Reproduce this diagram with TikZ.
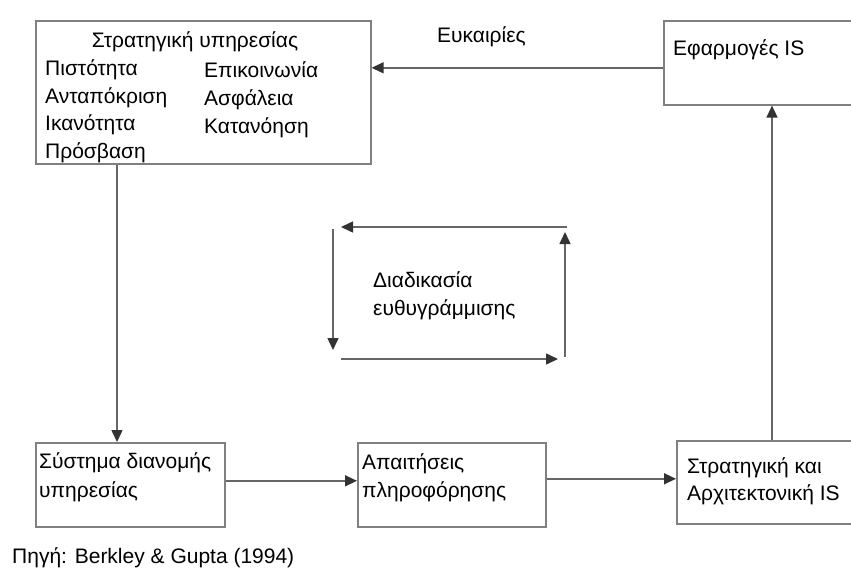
\documentclass[tikz,border=0pt]{standalone}
\usepackage{fontspec}
\setmainfont{Liberation Sans}
\usetikzlibrary{positioning,arrows.meta}

\begin{document}
\begin{tikzpicture}[x=1pt,y=-1pt,->,>={Triangle[length=12pt,width=11pt,color=black!80]}]
  \tikzstyle{box}=[rectangle,draw=black!50,line width=1.6pt,anchor=north west,inner sep=0pt]
  \tikzstyle{lbl}=[anchor=base west,inner sep=0pt,font=\fontsize{21}{28}\selectfont]
  \tikzstyle{link}=[draw=black!60,line width=1.5pt]

  \useasboundingbox (0,0) rectangle (851,568);

  % boxes
  \node[box,minimum width=335pt,minimum height=143pt] (strat) at (35,20) {};
  \node[box,minimum width=200pt,minimum height=84pt] (efarm) at (663,20) {};
  \node[box,minimum width=189pt,minimum height=84pt] (sys) at (35,442) {};
  \node[box,minimum width=188pt,minimum height=84pt] (apait) at (357,442) {};
  \node[box,minimum width=200pt,minimum height=83pt] (strarch) at (676,440) {};

  % texts of the boxes
  \node[lbl,anchor=base] (title) at (195,47) {Στρατηγική υπηρεσίας};
  \node[lbl] (pist) at (45,75) {Πιστότητα};
  \node[lbl] (antap) at (45,103) {Ανταπόκριση};
  \node[lbl] (ikan) at (45,130) {Ικανότητα};
  \node[lbl] (pros) at (45,158) {Πρόσβαση};
  \node[lbl] (epik) at (204,77) {Επικοινωνία};
  \node[lbl] (asfal) at (204,105) {Ασφάλεια};
  \node[lbl] (katan) at (204,133) {Κατανόηση};
  \node[lbl] (efarmtxt) at (673,55) {Εφαρμογές IS};
  \node[lbl] (sys1) at (39,468) {Σύστημα διανομής};
  \node[lbl] (sys2) at (39,497) {υπηρεσίας};
  \node[lbl] (apait1) at (362,469) {Απαιτήσεις};
  \node[lbl] (apait2) at (362,497) {πληροφόρησης};
  \node[lbl] (strarch1) at (687,473) {Στρατηγική και};
  \node[lbl] (strarch2) at (687,500) {Αρχιτεκτονική IS};

  % free texts
  \node[lbl] (eukair) at (437,42) {Ευκαιρίες};
  \node[lbl] (diad1) at (373,287) {Διαδικασία};
  \node[lbl] (diad2) at (373,315) {ευθυγράμμισης};
  \node[lbl] (source) at (12,563) {Πηγή: Berkley \& Gupta (1994)};

  % connectors
  \draw[link] ([yshift=-5pt]efarm.west) -- ([yshift=-5pt]efarm.west -| strat.east);
  \draw[link] ([xshift=82pt]strat.south west) -- ([xshift=82pt]sys.north west);
  \draw[link] ([yshift=4pt]sys.east) -- ([yshift=4pt]sys.east -| apait.west);
  \draw[link] ([yshift=6pt]apait.east) -- ([yshift=6pt]apait.east -| strarch.west);
  \draw[link] ([xshift=96pt]strarch.north west) -- ([xshift=109pt]efarm.south west);

  % alignment loop
  \coordinate (topR) at (567,227);
  \coordinate (topL) at (341,227);
  \coordinate (leftT) at (333,229);
  \coordinate (leftB) at (333,350);
  \coordinate (botL) at (341,359);
  \coordinate (botR) at (558,359);
  \coordinate (rightB) at (565,357);
  \coordinate (rightT) at (565,232);
  \draw[link] (topR) -- (topL);
  \draw[link] (leftT) -- (leftB);
  \draw[link] (botL) -- (botR);
  \draw[link] (rightB) -- (rightT);
\end{tikzpicture}
\end{document}
